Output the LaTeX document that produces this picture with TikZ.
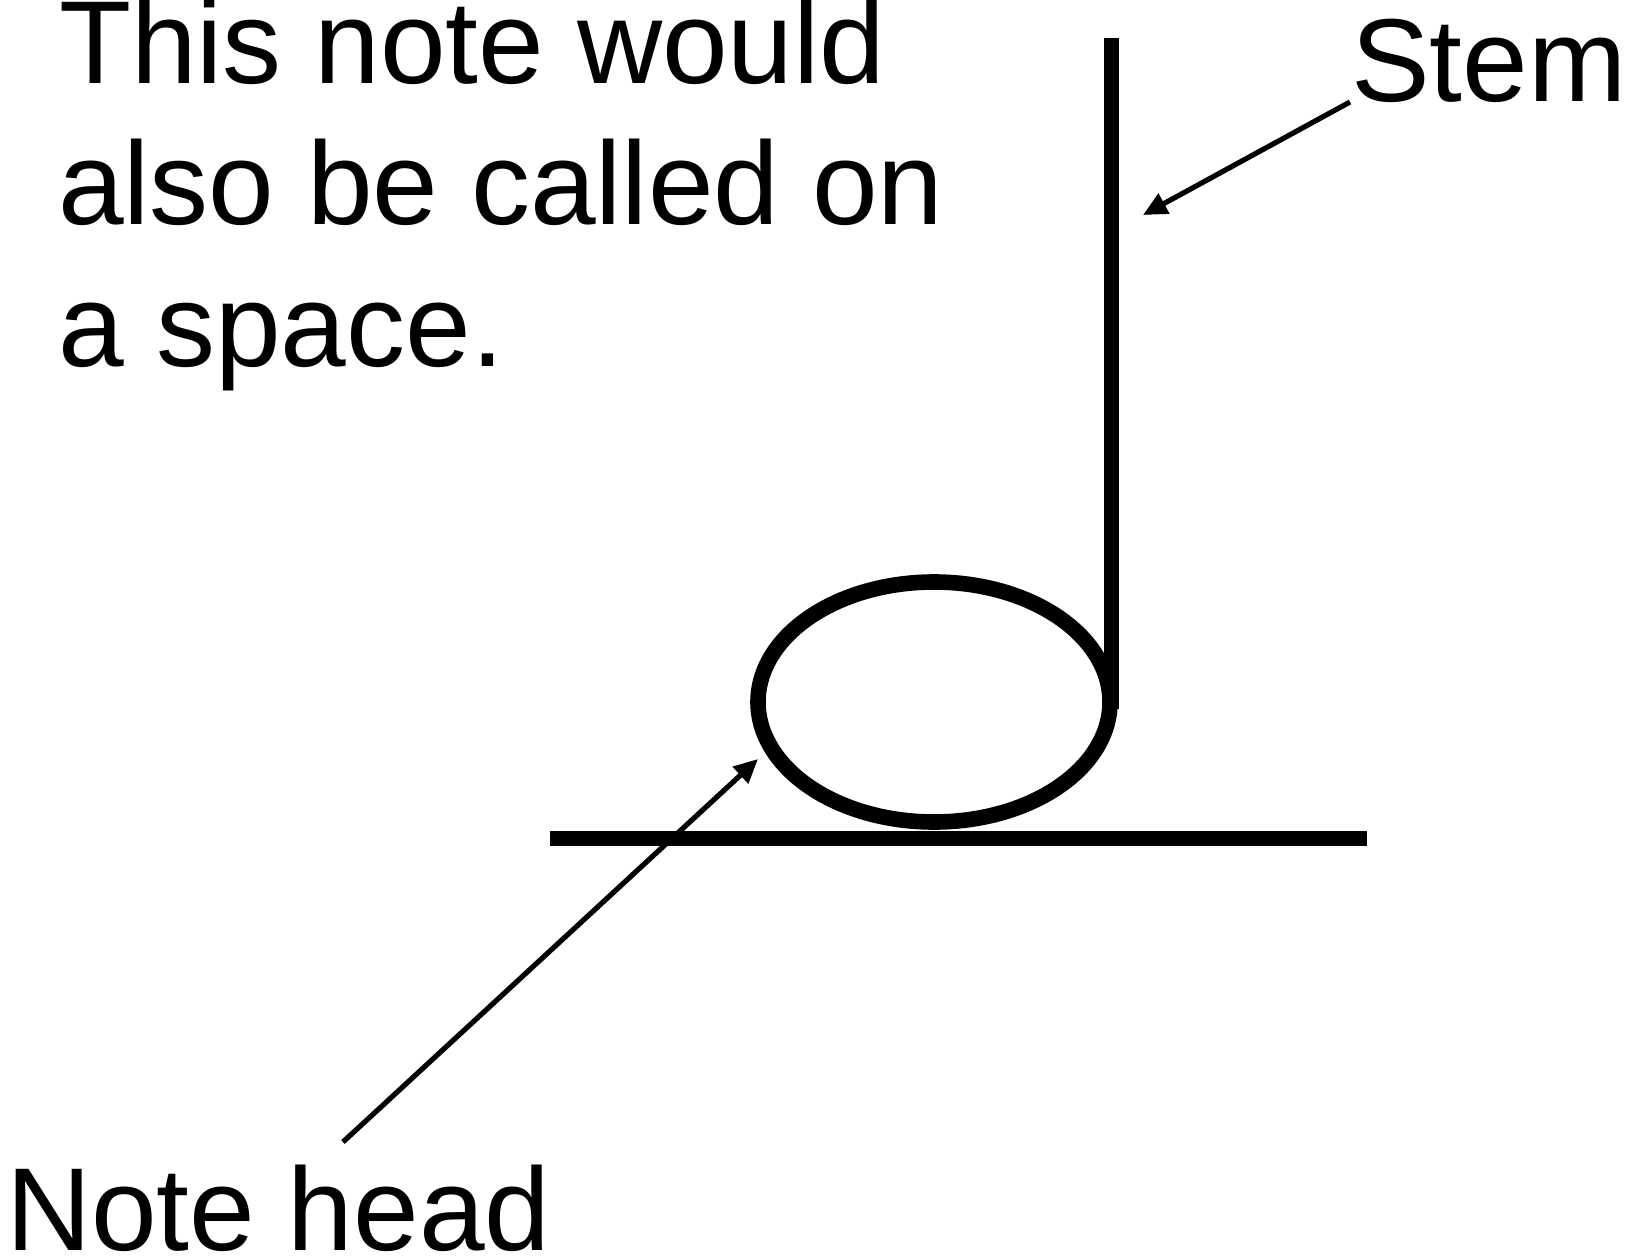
\documentclass[tikz,border=0pt]{standalone}
\usepackage{fontspec}
\setmainfont{Liberation Sans}
\usetikzlibrary{arrows.meta}
\begin{document}
\begin{tikzpicture}[x=1pt,y=-1pt,
  lbl/.style={inner sep=0pt,outer sep=0pt,anchor=base west,font=\fontsize{118}{141}\selectfont},
  thick line/.style={line width=15pt,line cap=butt},
  pointer/.style={line width=5.2pt,-{Triangle[length=24pt,width=22pt]}}]
\useasboundingbox (0,0) rectangle (1631,1258);
\fill[white] (0,0) rectangle (1631,1258);
% texts
\node[lbl] (l1) at (59,83) {This note would};
\node[lbl] (l2) at (58,224) {also be called on};
\node[lbl] (l3) at (58,366) {a space.};
\node[lbl] (stemlbl) at (1351,101) {Stem};
\node[lbl] (headlbl) at (6,1250) {Note head};
% note
\draw[line width=15.6pt] (934,702) ellipse [x radius=176pt, y radius=120pt];
\coordinate (stemtop) at (1111,38);
\coordinate (stembot) at (1111,709);
\draw[thick line] (stemtop) -- (stembot);
\coordinate (staffL) at (550,838);
\coordinate (staffR) at (1367,838);
\draw[thick line] (staffL) -- (staffR);
% arrows
\coordinate (stemfrom) at (1350,102);
\coordinate (stemto) at (1143,215);
\draw[pointer] (stemfrom) -- (stemto);
\coordinate (headfrom) at (343,1142);
\coordinate (headto) at (758,759);
\draw[pointer] (headfrom) -- (headto);
\end{tikzpicture}
\end{document}
